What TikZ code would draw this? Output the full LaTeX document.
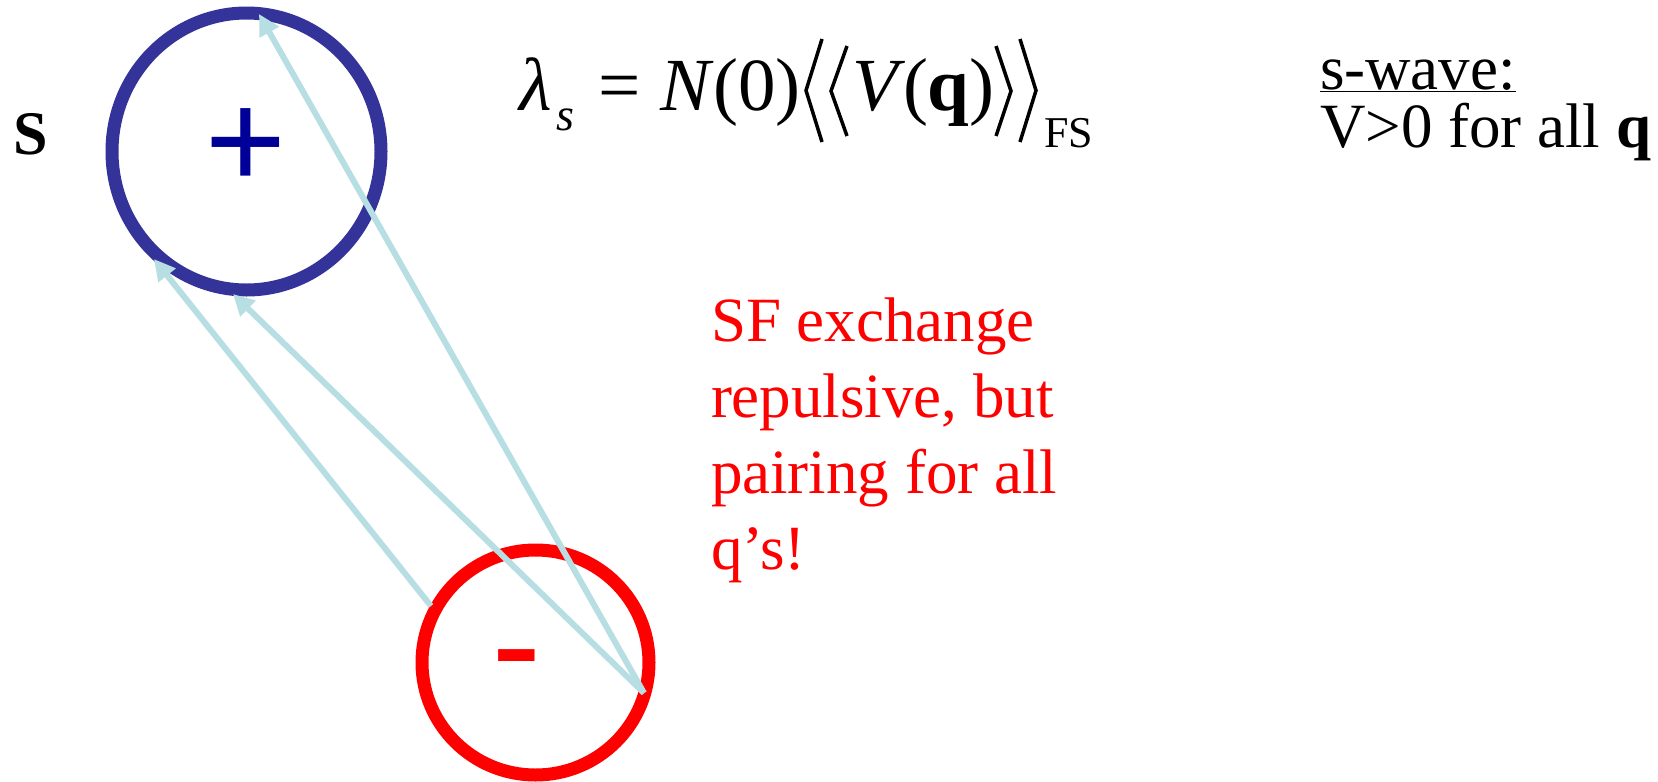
\documentclass[tikz,border=0pt]{standalone}
\usepackage{fontspec}
\setmainfont{Liberation Serif}
\usetikzlibrary{arrows.meta,shapes.geometric}
\definecolor{ringblue}{RGB}{51,51,153}
\definecolor{plusblue}{RGB}{0,0,153}
\definecolor{arrowblue}{RGB}{183,222,226}
\tikzset{
  ring/.style={draw, ellipse, line width=13pt, inner sep=0pt},
  qarrow/.style={draw=arrowblue, line width=6pt, -{Triangle[width=21pt,length=21pt]}},
  txt/.style={inner sep=0pt, outer sep=0pt},
  eqtxt/.style={txt, anchor=base west, font=\fontsize{75}{75}\selectfont},
  bracket/.style={draw=black, line width=3.5pt, line join=miter},
}
\begin{document}
\begin{tikzpicture}[x=1pt,y=-1pt]
\useasboundingbox (0,0) rectangle (1658,782);
% Fermi surfaces
\node[ring, draw=ringblue, minimum width=269pt, minimum height=277pt] (plusfs) at (246.5,151.5) {};
\node[ring, draw=red, minimum width=227pt, minimum height=225pt] (minusfs) at (535.5,662.5) {};
% signs
\node[txt, text=plusblue, font=\bfseries\fontsize{145}{145}\selectfont] (plus) at (246,149.5) {+};
\node[txt, text=red, anchor=base, font=\bfseries\fontsize{140}{140}\selectfont] (minus) at (517,688) {-};
% label S
\node[txt, anchor=base west, font=\bfseries\fontsize{62}{62}\selectfont] (slabel) at (13,154) {S};
% arrows
\coordinate (s1) at (431,606);
\coordinate (s2) at (644,693);
\coordinate (e1) at (154,259);
\coordinate (e2) at (233,294);
\coordinate (e3) at (259,14);
\draw[qarrow] (s1) -- (e1);
\draw[qarrow] (s2) -- (e2);
\draw[qarrow] (s2) -- (e3);
% formula
\node[eqtxt] (lam) at (519,110) {\textit{λ}};
\node[txt, anchor=base west, font=\itshape\fontsize{46}{46}\selectfont] (lamsub) at (556,130) {s};
\node[eqtxt] (eqsign) at (598.5,110) {=};
\node[eqtxt] (nzero) at (660,110) {\textit{N}(0)};
\draw[bracket] (822,39) -- (806,90.5) -- (822,142);
\draw[bracket] (847,46) -- (831,91) -- (847,136);
\node[eqtxt] (vee) at (852,110) {\textit{V}};
\node[eqtxt] (qarg) at (903,110) {(\textbf{q})};
\draw[bracket] (996,46) -- (1011,91) -- (996,136);
\draw[bracket] (1020,39) -- (1036,90.5) -- (1020,142);
\node[txt, anchor=base west, font=\fontsize{44}{44}\selectfont] (fs) at (1044,147) {FS};
% s-wave
\node[txt, anchor=base west, align=left, font=\fontsize{63}{58}\selectfont] (swave) at (1320,147)
  {\underline{s-wave:}\\V>0 for all \textbf{q}};
% red remark
\node[txt, anchor=base west, align=left, text=red, font=\fontsize{63}{76}\selectfont] (remark) at (711,569)
  {SF exchange\\repulsive, but\\pairing for all\\q’s!};
\end{tikzpicture}
\end{document}
